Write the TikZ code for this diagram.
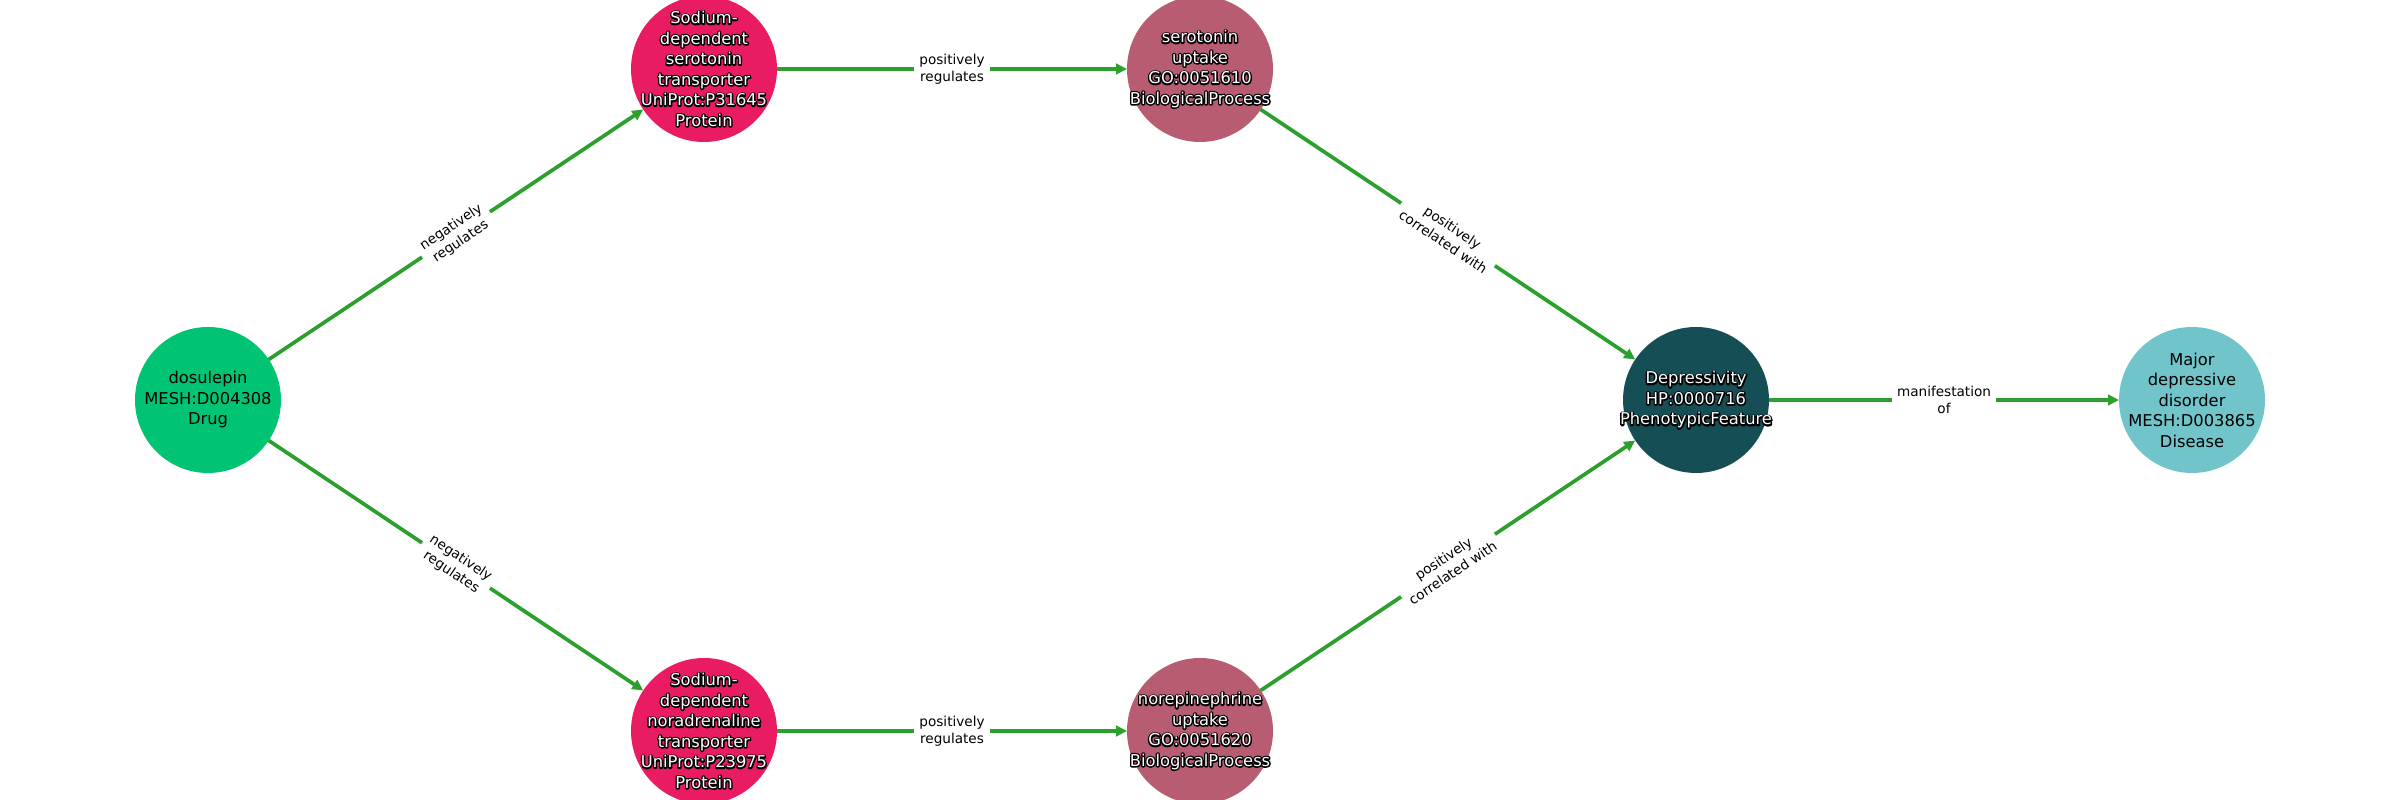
\documentclass[tikz,border=0pt]{standalone}
\usepackage{fontspec}
\setmainfont{DejaVu Sans}
\usetikzlibrary{arrows.meta}
\definecolor{cdrug}{RGB}{0,196,115}
\definecolor{cprot}{RGB}{233,28,99}
\definecolor{cproc}{RGB}{184,92,114}
\definecolor{cpheno}{RGB}{22,78,86}
\definecolor{cdis}{RGB}{113,197,202}
\definecolor{cedge}{RGB}{44,160,44}
\newcommand{\olin}[1]{\rlap{\special{pdf:literal direct 1 Tr 2.8 w 1 j 0 G}#1\special{pdf:literal direct 0 Tr}}#1}
\begin{document}
\begin{tikzpicture}[x=1pt,y=1pt,
  ent/.style={circle,minimum size=146pt,inner sep=-60pt,outer sep=0pt,align=center,
    font=\fontsize{16.3}{20.5}\selectfont,text=black},
  darkent/.style={ent,text=white},
  edge/.style={draw=cedge,line width=3.7pt,-{Triangle[length=11pt,width=10.5pt]}},
  elabel/.style={fill=white,inner xsep=5pt,inner ysep=2pt,align=center,
    font=\fontsize{13.6}{17}\selectfont,text=black,sloped}]
\useasboundingbox (0,0) rectangle (2400,800);
\node[ent,fill=cdrug] (dos) at (208,400) {dosulepin\\MESH:D004308\\Drug};
\node[darkent,fill=cprot] (sert) at (704,731) {\olin{Sodium-}\\\olin{dependent}\\\olin{serotonin}\\\olin{transporter}\\\olin{UniProt:P31645}\\\olin{Protein}};
\node[darkent,fill=cproc] (seru) at (1200,731) {\olin{serotonin}\\\olin{uptake}\\\olin{GO:0051610}\\\olin{BiologicalProcess}};
\node[darkent,fill=cpheno] (dep) at (1696,400) {\olin{Depressivity}\\\olin{HP:0000716}\\\olin{PhenotypicFeature}};
\node[ent,fill=cdis] (mdd) at (2192,400) {Major\\depressive\\disorder\\MESH:D003865\\Disease};
\node[darkent,fill=cprot] (nort) at (704,69) {\olin{Sodium-}\\\olin{dependent}\\\olin{noradrenaline}\\\olin{transporter}\\\olin{UniProt:P23975}\\\olin{Protein}};
\node[darkent,fill=cproc] (noru) at (1200,69) {\olin{norepinephrine}\\\olin{uptake}\\\olin{GO:0051620}\\\olin{BiologicalProcess}};
\draw[edge] (dos) -- node[elabel]{negatively\\regulates} (sert);
\draw[edge] (dos) -- node[elabel]{negatively\\regulates} (nort);
\draw[edge] (sert) -- node[elabel]{positively\\regulates} (seru);
\draw[edge] (nort) -- node[elabel]{positively\\regulates} (noru);
\draw[edge] (seru) -- node[elabel]{positively\\correlated with} (dep);
\draw[edge] (noru) -- node[elabel]{positively\\correlated with} (dep);
\draw[edge] (dep) -- node[elabel]{manifestation\\of} (mdd);
\end{tikzpicture}
\end{document}
